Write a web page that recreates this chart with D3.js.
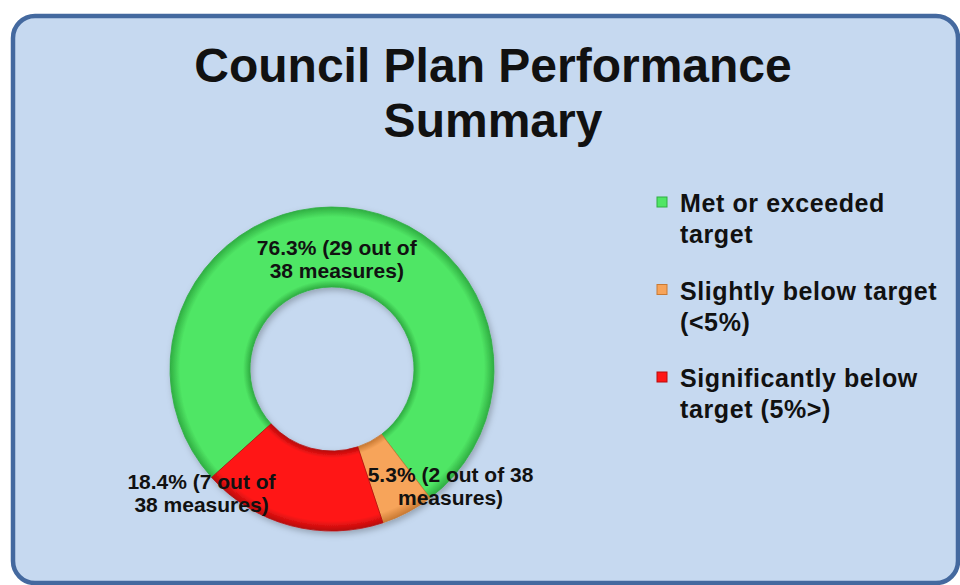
<!DOCTYPE html>
<html lang="en">
<head>
    <meta charset="UTF-8">
    <title>Council Plan Performance Summary</title>
    <script src="https://d3js.org/d3.v7.min.js"></script>
    <style>
        body { margin: 0; background: #fff; }
        text { font-family: "Liberation Sans", Arial, sans-serif; font-weight: bold; fill: #111; }
    </style>
</head>
<body>
    <svg width="960" height="585"></svg>
    <script type="text/javascript">
        // Chart data
        var categories = ["Met or exceeded target", "Slightly below target (<5%)", "Significantly below target (5%>)"];
        var counts = [29, 2, 7];
        var totalMeasures = 38;
        var percents = [76.3, 5.3, 18.4];
        var legendLines = [["Met or exceeded", "target"], ["Slightly below target", "(<5%)"], ["Significantly below", "target (5%>)"]];
        var labelLines = [["76.3% (29 out of", "38 measures)"], ["5.3% (2 out of 38", "measures)"], ["18.4% (7 out of", "38 measures)"]];
        var titleLines = ["Council Plan Performance", "Summary"];

        // Colours: base and darker edge (bevel)
        var colors = ["#50e665", "#f7a45a", "#ff1616"];
        var edges = ["#2fae42", "#c97a33", "#b80c0c"];

        var svg = d3.select("svg");

        // Panel
        svg.append("rect")
           .attr("x", 13).attr("y", 16)
           .attr("width", 945).attr("height", 567)
           .attr("rx", 22).attr("ry", 22)
           .attr("fill", "#c6d9f0")
           .attr("stroke", "#44699f")
           .attr("stroke-width", 4.5);

        // Title
        svg.append("g").selectAll("text")
           .data(titleLines)
           .enter().append("text")
           .attr("x", 493)
           .attr("y", function(d, i) { return 82 + i * 55; })
           .attr("text-anchor", "middle")
           .attr("font-size", "48px")
           .text(function(d) { return d; });

        // Donut
        var cx = 332, cy = 369, outerR = 162, innerR = 82;
        var deg = Math.PI / 180;

        var pie = d3.pie()
                    .sort(null)
                    .value(function(d) { return d; })
                    .startAngle(-132 * deg)
                    .endAngle(228 * deg);

        var arc = d3.arc().innerRadius(innerR).outerRadius(outerR);
        var labelArc = d3.arc().innerRadius(115).outerRadius(115);
        var edgeArc = d3.arc().innerRadius(outerR).outerRadius(outerR);

        var defs = svg.append("defs");
        colors.forEach(function(c, i) {
            var g = defs.append("radialGradient")
                        .attr("id", "grad" + i)
                        .attr("gradientUnits", "userSpaceOnUse")
                        .attr("cx", 0).attr("cy", 0).attr("r", outerR);
            g.append("stop").attr("offset", innerR / outerR).attr("stop-color", edges[i]);
            g.append("stop").attr("offset", (innerR + 7) / outerR).attr("stop-color", c);
            g.append("stop").attr("offset", (outerR - 10) / outerR).attr("stop-color", c);
            g.append("stop").attr("offset", 1).attr("stop-color", edges[i]);
        });

        var shadow = defs.append("filter").attr("id", "shadow")
                         .attr("x", "-20%").attr("y", "-20%").attr("width", "140%").attr("height", "140%");
        shadow.append("feDropShadow")
              .attr("dx", 2).attr("dy", 3).attr("stdDeviation", 3)
              .attr("flood-color", "#000").attr("flood-opacity", 0.25);

        var arcs = pie(counts);

        var donut = svg.append("g")
                       .attr("transform", "translate(" + cx + "," + cy + ")");

        donut.append("g").attr("filter", "url(#shadow)")
             .selectAll("path")
             .data(arcs)
             .enter().append("path")
             .attr("d", arc)
             .attr("fill", function(d, i) { return "url(#grad" + i + ")"; })
             .attr("stroke", function(d, i) { return edges[i]; })
             .attr("stroke-width", 0.8);

        // Data labels (green near its centroid, the small ones pushed outside)
        var labelNudge = [[-6, 4], [43, -26], [-89, -33]];
        donut.selectAll(".lbl")
             .data(arcs)
             .enter().append("text")
             .attr("class", "lbl")
             .attr("text-anchor", "middle")
             .attr("font-size", "21px")
             .attr("transform", function(d, i) {
                 var p = i === 0 ? labelArc.centroid(d) : edgeArc.centroid(d);
                 return "translate(" + (p[0] + labelNudge[i][0]) + "," + (p[1] + labelNudge[i][1]) + ")";
             })
             .each(function(d, i) {
                 d3.select(this).selectAll("tspan")
                   .data(labelLines[i])
                   .enter().append("tspan")
                   .attr("x", 0)
                   .attr("y", function(t, j) { return j * 23 - 4; })
                   .text(function(t) { return t; });
             });

        // Legend
        var legend = svg.append("g").attr("transform", "translate(657,212)");
        var item = legend.selectAll(".item")
                         .data(categories)
                         .enter().append("g")
                         .attr("class", "item")
                         .attr("transform", function(d, i) { return "translate(0," + (i * 87.5) + ")"; });

        item.append("rect")
            .attr("x", 0).attr("y", -15)
            .attr("width", 10).attr("height", 10)
            .attr("fill", function(d, i) { return colors[i]; })
            .attr("stroke", function(d, i) { return edges[i]; })
            .attr("stroke-width", 1);

        item.append("text")
            .attr("font-size", "25px")
            .attr("letter-spacing", "0.6px")
            .each(function(d, i) {
                d3.select(this).selectAll("tspan")
                  .data(legendLines[i])
                  .enter().append("tspan")
                  .attr("x", 23)
                  .attr("y", function(t, j) { return j * 31; })
                  .text(function(t) { return t; });
            });
    </script>
</body>
</html>
